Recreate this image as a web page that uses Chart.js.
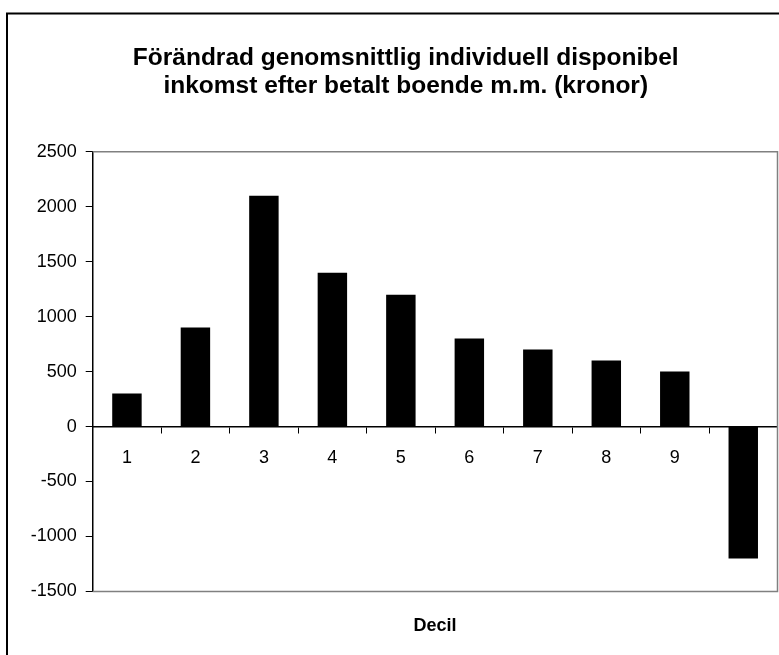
<!DOCTYPE html>
<html>
<head>
<meta charset="utf-8">
<script src="https://cdn.jsdelivr.net/npm/chart.js@4.4.1/dist/chart.umd.min.js"></script>
<style>
  html, body { margin: 0; padding: 0; background: #fff; }
  #wrap { width: 779px; height: 655px; position: relative; }
</style>
</head>
<body>
<div id="wrap"><canvas id="c"></canvas></div>
<script>
const titleLines = ['Förändrad genomsnittlig individuell disponibel', 'inkomst efter betalt boende m.m. (kronor)'];
const xTitle = 'Decil';
const categories = ['1', '2', '3', '4', '5', '6', '7', '8', '9', '10'];
const values = [300, 900, 2100, 1400, 1200, 800, 700, 600, 500, -1200];
const yMin = -1500;
const yMax = 2500;
const yStep = 500;

const FONT = '"Liberation Sans", Arial, sans-serif';

const framePlugin = {
  id: 'frame',
  afterLayout(chart) {
    const t = chart.titleBlock;
    if (t) { t.left += 5; t.right += 5; }
  },
  beforeDraw(chart) {
    const ctx = chart.ctx;
    ctx.save();
    ctx.fillStyle = '#fff';
    ctx.fillRect(0, 0, chart.width, chart.height);
    ctx.strokeStyle = '#000';
    ctx.lineWidth = 2;
    ctx.strokeRect(7, 13.5, chart.width + 50, chart.height + 50);
    ctx.restore();
  },
  beforeDatasetsDraw(chart) {
    const a = chart.chartArea;
    const ctx = chart.ctx;
    ctx.save();
    ctx.strokeStyle = '#808080';
    ctx.lineWidth = 1.5;
    ctx.beginPath();
    ctx.moveTo(a.left, a.top);
    ctx.lineTo(a.right, a.top);
    ctx.lineTo(a.right, a.bottom);
    ctx.lineTo(a.left, a.bottom);
    ctx.stroke();
    ctx.restore();
  }
};

new Chart(document.getElementById('c'), {
  type: 'bar',
  data: {
    labels: categories,
    datasets: [{
      data: values,
      backgroundColor: '#000',
      borderColor: '#000',
      borderWidth: 0,
      categoryPercentage: 1.0,
      barPercentage: 0.43,
      xAxisID: 'x',
      yAxisID: 'y'
    }]
  },
  options: {
    responsive: true,
    maintainAspectRatio: false,
    animation: false,
    layout: { padding: { left: 24, right: 1.5, top: 0, bottom: 18 } },
    plugins: {
      legend: { display: false },
      tooltip: { enabled: false },
      title: {
        display: true,
        text: titleLines,
        color: '#000',
        font: { family: FONT, size: 24.5, weight: 'bold', lineHeight: 1.14 },
        padding: { top: 44, bottom: 51.9 }
      }
    },
    scales: {
      x: {
        type: 'category',
        position: { y: 0 },
        offset: true,
        grid: { display: true, drawOnChartArea: false, drawTicks: true, tickLength: 6, color: '#000', offset: true },
        border: { display: true, color: '#000', width: 1.5 },
        ticks: { color: '#000', font: { family: FONT, size: 18 }, padding: 15, maxRotation: 0, autoSkip: false }
      },
      x2: {
        type: 'category',
        position: 'bottom',
        grid: { display: false, drawTicks: false },
        border: { display: false },
        ticks: { display: false },
        title: {
          display: true,
          text: xTitle,
          color: '#000',
          font: { family: FONT, size: 18, weight: 'bold', lineHeight: 1.2 },
          padding: { top: 24, bottom: 0 }
        },
        afterFit(scale) { scale.height = 45.6; }
      },
      y: {
        type: 'linear',
        position: 'left',
        min: yMin,
        max: yMax,
        grid: { display: true, drawOnChartArea: false, drawTicks: true, tickLength: 7, color: '#000' },
        border: { display: true, color: '#000', width: 1.5 },
        ticks: {
          stepSize: yStep,
          color: '#000',
          font: { family: FONT, size: 18 },
          padding: 9,
          callback: (v) => String(v)
        },
        afterFit(scale) { scale.width = 68.7; }
      }
    }
  },
  plugins: [framePlugin]
});
</script>
</body>
</html>
